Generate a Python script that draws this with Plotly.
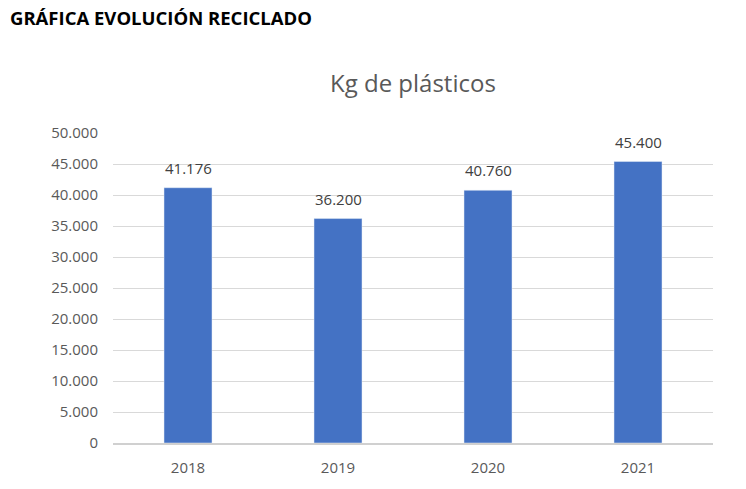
import plotly.graph_objects as go

years = ["2018", "2019", "2020", "2021"]
kg = [41176, 36200, 40760, 45400]
tick_vals = [0, 5000, 10000, 15000, 20000, 25000, 30000, 35000, 40000, 45000, 50000]

def fmt(v):
    return f"{v:,}".replace(",", ".")

fig = go.Figure()
fig.add_trace(go.Bar(x=years, y=kg, marker_color="#4472C4", hoverinfo="x+y"))

for i, v in enumerate(kg):
    fig.add_annotation(x=i, y=v, text=fmt(v), showarrow=False, yanchor="middle",
                       yshift=20, font=dict(family="Open Sans", size=15, color="#404040"))

fig.add_annotation(x=0.5, y=1.1645, xref="paper", yref="paper", text="Kg de plásticos",
                   showarrow=False, yanchor="middle", xanchor="center",
                   font=dict(family="Open Sans", size=24, color="#595959"))

fig.update_layout(
    width=746, height=489,
    margin=dict(l=105, r=41, t=125, b=54),
    paper_bgcolor="white", plot_bgcolor="white",
    bargap=0.68,
    showlegend=False,
    font=dict(family="Open Sans", size=15, color="#595959"),
    title=dict(text="<b>GRÁFICA EVOLUCIÓN RECICLADO</b>", xref="container", yref="container",
               x=2/746, y=1-11/489, xanchor="left", yanchor="middle", pad=dict(l=0, t=0, b=0, r=0),
               font=dict(family="Open Sans", size=18.5, color="#000000")),
    xaxis=dict(type="category", range=[-0.5, 3.5], showgrid=False, showline=True,
               linecolor="#d0d0d0", linewidth=1.5,
               ticks="", tickfont=dict(size=15, color="#595959"), ticklabelstandoff=10),
    yaxis=dict(range=[0, 50000], tickvals=tick_vals, ticktext=[fmt(v) for v in tick_vals],
               showgrid=True, gridcolor="#d9d9d9", gridwidth=1, zeroline=False,
               showline=False, ticks="", tickfont=dict(size=15, color="#595959"),
               ticklabelstandoff=14),
)

fig.write_html("out.html")
